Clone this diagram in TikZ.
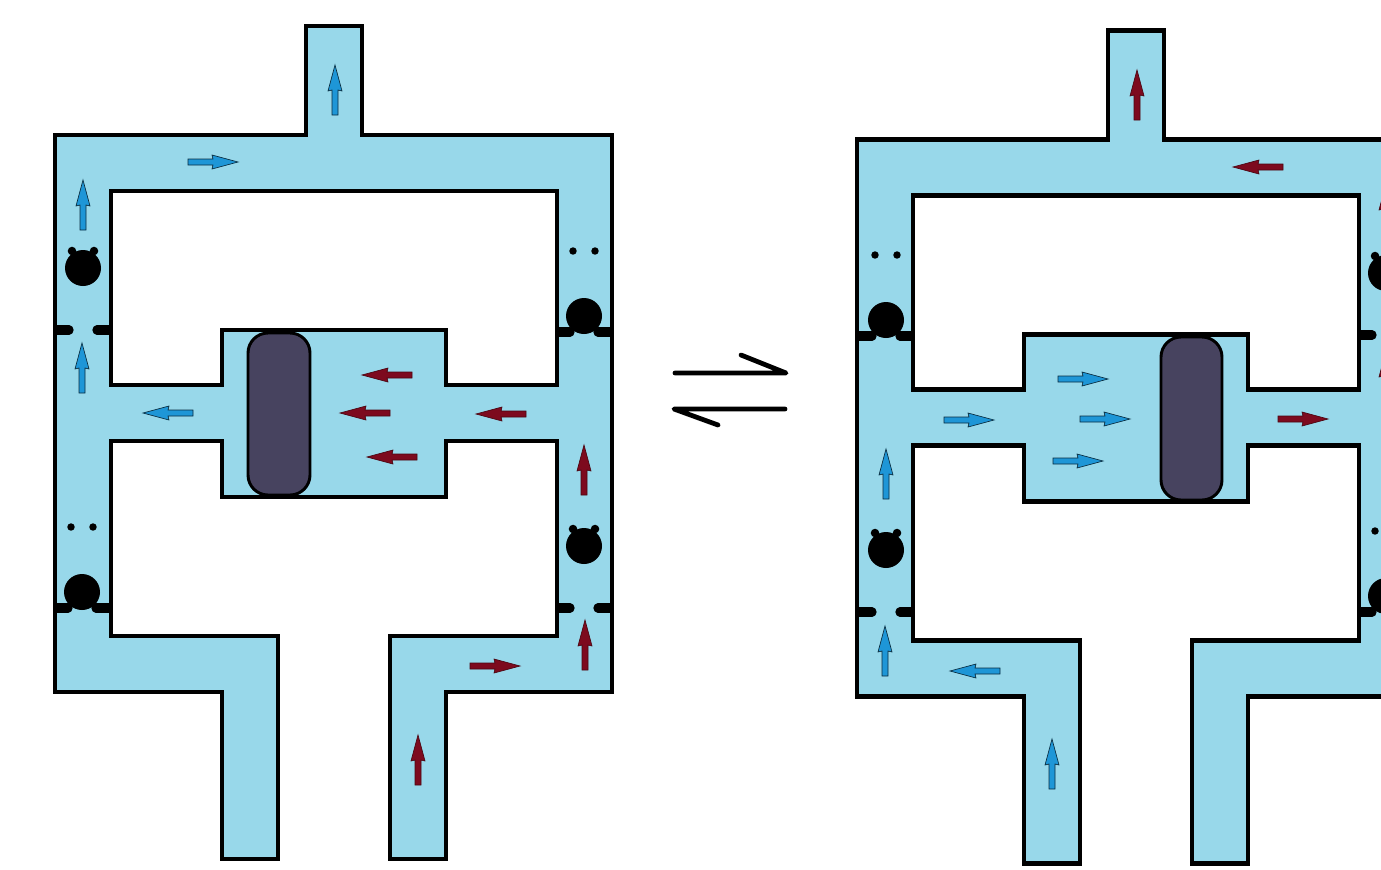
\documentclass[tikz,border=0pt]{standalone}
\definecolor{pumpfluid}{RGB}{152,216,234}
\definecolor{pistongrey}{RGB}{71,67,95}
\definecolor{flowblue}{RGB}{30,150,215}
\definecolor{flowred}{RGB}{125,10,30}
\tikzset{
    wall/.style={draw=black,line width=3.6pt,line join=miter},
    piston/.style={draw=black,fill=pistongrey,line width=2.2pt,rounded corners=15pt},
    seatbar/.style={black,line width=7pt,line cap=round},
    seatfoot/.style={black,line width=7pt},
    ball/.style={fill=black},
    blueflow/.style={draw=black!70!flowblue,fill=flowblue,line width=0.5pt},
    redflow/.style={draw=black!40!flowred,fill=flowred,line width=0.5pt},
    swing/.style={black,line width=3.6pt,line cap=round,line join=round}
}
\newcommand{\pumpbody}{%
    \path[wall,fill=pumpfluid] (55,135) -- (306,135) -- (306,26) -- (362,26) -- (362,135) -- (612,135)
        -- (612,692) -- (446,692) -- (446,859) -- (390,859) -- (390,636) -- (557,636) -- (557,441)
        -- (446,441) -- (446,497) -- (222,497) -- (222,441) -- (111,441) -- (111,636) -- (278,636)
        -- (278,859) -- (222,859) -- (222,692) -- (55,692) -- cycle;
    \path[wall,fill=white] (111,191) -- (557,191) -- (557,385) -- (446,385) -- (446,330)
        -- (222,330) -- (222,385) -- (111,385) -- cycle;
}
\newcommand{\seatbars}[2]{%
    \draw[seatbar] (#1-18,#2) -- (#1-14,#2) (#1+18,#2) -- (#1+14,#2);
    \draw[seatfoot] (#1-28,#2) -- (#1-18,#2) (#1+28,#2) -- (#1+18,#2);
}
\newcommand{\valveopen}[2]{%
    \seatbars{#1}{#2}
    \fill[ball] (#1,#2-62) circle (13.5pt);
    \fill[ball] (#1-11,#2-79) circle (3.2pt) (#1+11,#2-79) circle (3.2pt);
}
\newcommand{\valveshut}[2]{%
    \seatbars{#1}{#2}
    \fill[ball] (#1,#2-16) circle (13.5pt);
    \fill[ball] (#1-11,#2-81) circle (2.8pt) (#1+11,#2-81) circle (2.8pt);
}
\newcommand{\flowarrow}[4]{%
    \draw[#1,shift={(#2,#3)},rotate=#4] (-25,-3) -- (0,-3) -- (-1,-7) -- (25,0) -- (-1,7) -- (0,3) -- (-25,3) -- cycle;
}

\begin{document}
\begin{tikzpicture}[x=0.75pt,y=-0.75pt]
    \useasboundingbox (0,0) rectangle (1381,869);
    \clip (0,0) rectangle (1381,869);

    % left pump
    \pumpbody
    \draw[piston] (248,333) rectangle (310,495);
    \draw[black,line width=3.6pt] (258,330) -- (300,330) (258,497) -- (300,497);
    \valveopen{83}{330}
    \valveshut{584}{332}
    \valveshut{82}{608}
    \valveopen{584}{608}
    \flowarrow{blueflow}{335}{90}{90}
    \flowarrow{blueflow}{213}{162}{0}
    \flowarrow{blueflow}{83}{205}{90}
    \flowarrow{blueflow}{82}{368}{90}
    \flowarrow{blueflow}{168}{413}{180}
    \flowarrow{redflow}{387}{375}{180}
    \flowarrow{redflow}{365}{413}{180}
    \flowarrow{redflow}{392}{457}{180}
    \flowarrow{redflow}{501}{414}{180}
    \flowarrow{redflow}{584}{470}{90}
    \flowarrow{redflow}{585}{645}{90}
    \flowarrow{redflow}{495}{666}{0}
    \flowarrow{redflow}{418}{760}{90}

    % right pump
    \begin{scope}[shift={(802,4.5)}]
        \pumpbody
    \end{scope}
    \draw[piston] (1161,337) rectangle (1222,500);
    \draw[black,line width=3.6pt] (1171,334.5) -- (1212,334.5) (1171,501.5) -- (1212,501.5);
    \valveshut{886}{336}
    \valveopen{886}{612}
    \valveopen{1386}{335}
    \valveshut{1386}{612}
    \flowarrow{redflow}{1137}{95}{90}
    \flowarrow{redflow}{1258}{167}{180}
    \flowarrow{redflow}{1303}{419}{0}
    \flowarrow{redflow}{1386}{209}{90}
    \flowarrow{redflow}{1386}{376}{90}
    \flowarrow{blueflow}{1083}{379}{0}
    \flowarrow{blueflow}{969}{420}{0}
    \flowarrow{blueflow}{1105}{419}{0}
    \flowarrow{blueflow}{1078}{461}{0}
    \flowarrow{blueflow}{886}{474}{90}
    \flowarrow{blueflow}{885}{651}{90}
    \flowarrow{blueflow}{975}{671}{180}
    \flowarrow{blueflow}{1052}{764}{90}

    % equilibrium sign
    \draw[swing] (675,373) -- (786,373) -- (741,355);
    \draw[swing] (785,409) -- (674,409) -- (718,425);
\end{tikzpicture}
\end{document}
